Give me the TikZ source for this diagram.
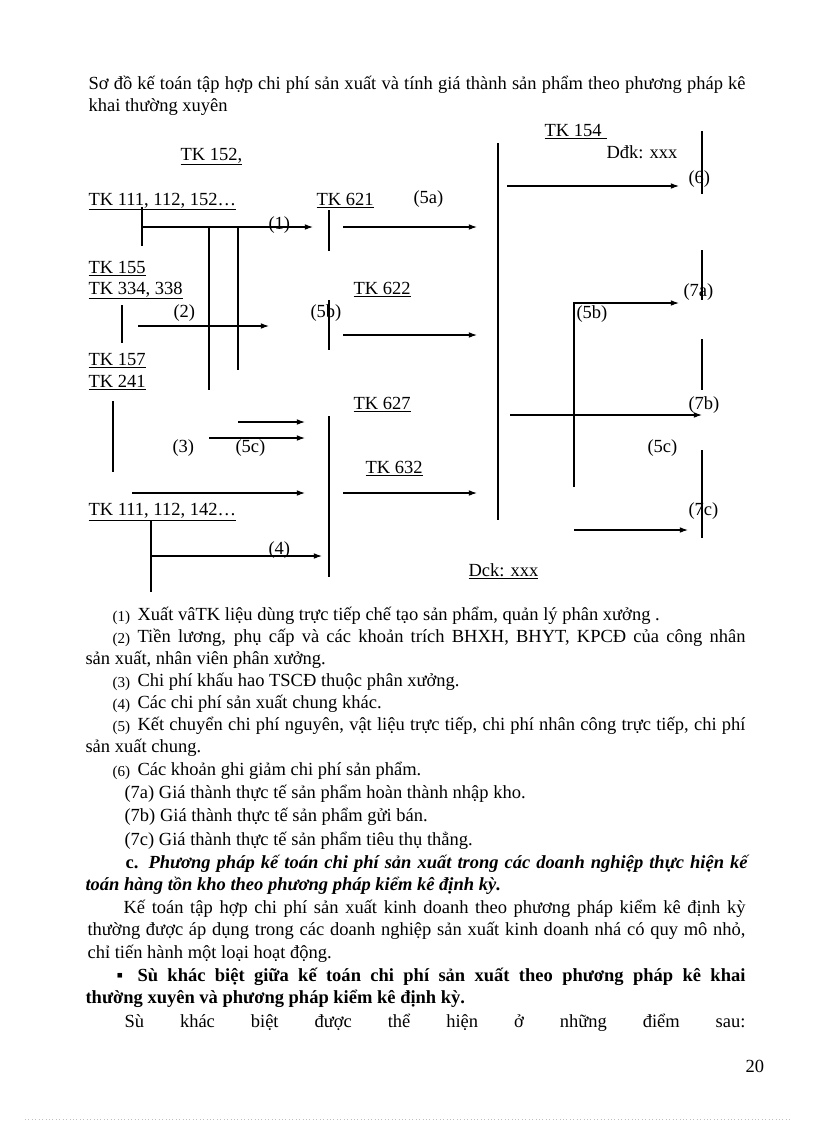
\documentclass[tikz,border=0pt]{standalone}
\usepackage{fontspec}
\setmainfont{Liberation Serif}
\usetikzlibrary{arrows.meta}

\begin{document}
\begin{tikzpicture}[x=0.7295pt,y=-0.7295pt,line width=0.8pt,
  every node/.style={inner sep=0pt,anchor=base west,font=\fontsize{13.5}{16}\selectfont},
  itemno/.style={font=\fontsize{11}{13}\selectfont},
  flow/.style={-{Latex[length=6pt,width=4.2pt]}}]
\useasboundingbox (0,0) rectangle (816,1123);

% title
\node (head1) at (88,89) {\makebox[479.3pt][s]{Sơ đồ kế toán tập hợp chi phí sản xuất và tính giá thành sản phẩm theo phương pháp kê}};
\node (head2) at (88,111) {khai thường xuyên};

% accounts
\node (tk152) at (180,160) {\underline{TK 152,}};
\node (tk111) at (88,205) {\underline{TK 111, 112, 152…}};
\node (tk621) at (316,205) {\underline{TK 621}};
\node (tk155) at (88,273) {\underline{TK 155}};
\node (tk334) at (88,294) {\underline{TK 334, 338}};
\node (tk622) at (353,294) {\underline{TK 622}};
\node (tk157) at (88,365) {\underline{TK 157}};
\node (tk241) at (88,387) {\underline{TK 241}};
\node (tk627) at (353,409) {\underline{TK 627}};
\node (tk632) at (365,473) {\underline{TK 632}};
\node (tk142) at (88,515) {\underline{TK 111, 112, 142…}};
\node (tk154) at (544,136) {\underline{TK 154\hspace{4pt}}};
\node (ddk) at (606,158) {Dđk: xxx};
\node (dck) at (468,576) {\underline{Dck: xxx}};

% step numbers
\node (n1) at (268,229) {(1)};
\node (n5a) at (413,203) {(5a)};
\node (n2) at (173,317) {(2)};
\node (n5b) at (310,317) {(5b)};
\node (n3) at (172,452) {(3)};
\node (n5c) at (235,452) {(5c)};
\node (n4) at (268,554) {(4)};
\node (n6) at (688,183) {(6)};
\node (n7a) at (683,296) {(7a)};
\node (n5b') at (576,318) {(5b)};
\node (n7b) at (688,409) {(7b)};
\node (n5c') at (647,452) {(5c)};
\node (n7c) at (688,515) {(7c)};

% account stems
\coordinate (s111a) at (142,207); \coordinate (s111b) at (142,246);
\coordinate (br1a) at (209,227); \coordinate (br1b) at (209,390);
\coordinate (br2a) at (238,227); \coordinate (br2b) at (238,370);
\coordinate (s621a) at (329,210); \coordinate (s621b) at (329,251);
\coordinate (s154a) at (498,143); \coordinate (s154b) at (498,520);
\coordinate (s334a) at (122,305); \coordinate (s334b) at (122,343);
\coordinate (s622a) at (329,300); \coordinate (s622b) at (329,350);
\coordinate (s241a) at (113,401); \coordinate (s241b) at (113,472);
\coordinate (s627a) at (329,416); \coordinate (s627b) at (329,577);
\coordinate (s142a) at (151,520); \coordinate (s142b) at (151,592);
\coordinate (r6a) at (702,131); \coordinate (r6b) at (702,194);
\coordinate (r7aa) at (702,250); \coordinate (r7ab) at (702,300);
\coordinate (r7ba) at (702,339); \coordinate (r7bb) at (702,390);
\coordinate (r7ca) at (702,450); \coordinate (r7cb) at (702,538);
\draw (s111a)--(s111b);
\draw (br1a)--(br1b);
\draw (br2a)--(br2b);
\draw (s621a)--(s621b);
\draw (s154a)--(s154b);
\draw (s334a)--(s334b);
\draw (s622a)--(s622b);
\draw (s241a)--(s241b);
\draw (s627a)--(s627b);
\draw (s142a)--(s142b);
\draw (r6a)--(r6b);
\draw (r7aa)--(r7ab);
\draw (r7ba)--(r7bb);
\draw (r7ca)--(r7cb);

% postings
\coordinate (p1b) at (313,227);
\coordinate (p5aa) at (343,227); \coordinate (p5ab) at (477,227);
\coordinate (p2a) at (138,326); \coordinate (p2b) at (269,326);
\coordinate (p5ba) at (343,335); \coordinate (p5bb) at (477,335);
\coordinate (p3a) at (238,422); \coordinate (p3b) at (305,422);
\coordinate (p3c) at (209,438); \coordinate (p3d) at (305,438);
\coordinate (p5ca) at (132,493); \coordinate (p5cb) at (305,493);
\coordinate (p632a) at (343,493); \coordinate (p632b) at (477,493);
\coordinate (p4a) at (151,556); \coordinate (p4b) at (322,556);
\coordinate (p6a) at (507,186); \coordinate (p6b) at (679,186);
\coordinate (p7aa) at (574,487); \coordinate (p7ab) at (679,303);
\coordinate (p7ba) at (510,415); \coordinate (p7bb) at (702,415);
\coordinate (p7ca) at (574,530); \coordinate (p7cb) at (688,530);
\draw[flow] (s111a|-p1b)--(p1b);
\draw[flow] (p5aa)--(p5ab);
\draw[flow] (p2a)--(p2b);
\draw[flow] (p5ba)--(p5bb);
\draw[flow] (p3a)--(p3b);
\draw[flow] (p3c)--(p3d);
\draw[flow] (p5ca)--(p5cb);
\draw[flow] (p632a)--(p632b);
\draw[flow] (p4a)--(p4b);
\draw[flow] (p6a)--(p6b);
\draw[flow] (p7aa)|-(p7ab);
\draw[flow] (p7ba)--(p7bb);
\draw[flow] (p7ca)--(p7cb);

% notes
\node[itemno] (i1) at (112,621) {(1)};
\node (l1) at (137,620) {Xuất vâTK liệu dùng trực tiếp chế tạo sản phẩm, quản lý phân xưởng .};
\node[itemno] (i2) at (112,643) {(2)};
\node (l2) at (137,642) {\makebox[443.5pt][s]{Tiền lương, phụ cấp và các khoản trích BHXH, BHYT, KPCĐ của công nhân}};
\node (l2b) at (85,664) {sản xuất, nhân viên phân xưởng.};
\node[itemno] (i3) at (112,687.5) {(3)};
\node (l3) at (137,686.5) {Chi phí khấu hao TSCĐ thuộc phân xưởng.};
\node[itemno] (i4) at (112,709.5) {(4)};
\node (l4) at (137,708.5) {Các chi phí sản xuất chung khác.};
\node[itemno] (i5) at (112,731.5) {(5)};
\node (l5) at (137,730.5) {\makebox[443.5pt][s]{Kết chuyển chi phí nguyên, vật liệu trực tiếp, chi phí nhân công trực tiếp, chi phí}};
\node (l5b) at (85,752.5) {sản xuất chung.};
\node[itemno] (i6) at (112,776) {(6)};
\node (l6) at (137,775) {Các khoản ghi giảm chi phí sản phẩm.};
\node (l7a) at (124,798.3) {(7a) Giá thành thực tế sản phẩm hoàn thành nhập kho.};
\node (l7b) at (124,821.7) {(7b) Giá thành thực tế sản phẩm gửi bán.};
\node (l7c) at (124,845) {(7c) Giá thành thực tế sản phẩm tiêu thụ thẳng.};

% section c
\node (secc) at (125,868) {\bfseries c.};
\node (sec1) at (148,868) {\makebox[437pt][s]{\bfseries\itshape Phương pháp kế toán chi phí sản xuất trong các doanh nghiệp thực hiện kế}};
\node (sec2) at (85,890) {\bfseries\itshape toán hàng tồn kho theo phương pháp kiểm kê định kỳ.};
\node (par1) at (123,913) {\makebox[453.7pt][s]{Kế toán tập hợp chi phí sản xuất kinh doanh theo phương pháp kiểm kê định kỳ}};
\node (par2) at (87,935) {\makebox[480pt][s]{thường được áp dụng trong các doanh nghiệp sản xuất kinh doanh nhá có quy mô nhỏ,}};
\node (par3) at (87,958) {chỉ tiến hành một loại hoạt động.};
\node (bul) at (116,981) {\bfseries ▪};
\node (bul1) at (137,981) {\makebox[443.5pt][s]{\bfseries Sù khác biệt giữa kế toán chi phí sản xuất theo phương pháp kê khai}};
\node (bul2) at (85,1003) {\bfseries thường xuyên và phương pháp kiểm kê định kỳ.};
\node (par4) at (124,1027) {\makebox[453pt][s]{Sù khác biệt được thể hiện ở những điểm sau:}};

% page number and footer
\node (page) at (745,1072) {20};
\draw[dotted,line width=0.5pt,gray!50] (25,1119)--(790,1119);
\end{tikzpicture}
\end{document}
